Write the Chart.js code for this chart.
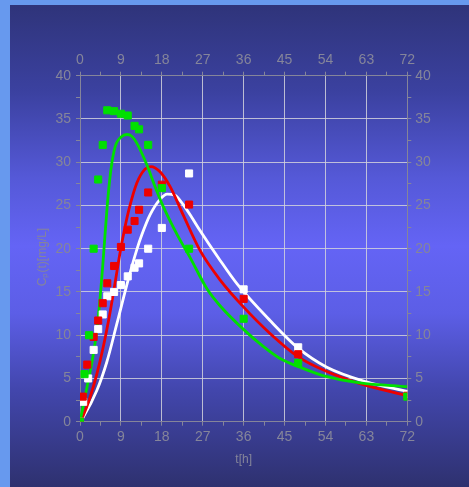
<!DOCTYPE html>
<html>
<head>
<meta charset="utf-8">
<script src="https://cdn.jsdelivr.net/npm/chart.js@4"></script>
<style>
html, body { margin: 0; padding: 0; width: 469px; height: 487px; overflow: hidden; background: #6799ee; }
#panel {
    position: absolute; left: 10px; top: 5px; width: 459px; height: 482px;
    background: linear-gradient(#2f347a 0%, #3b41a0 18%, #5559d8 36%, #6464f5 50%, #5c5ee6 64%, #4246ac 80%, #2e316f 100%);
}
#wrap { position: absolute; left: 0; top: 0; width: 469px; height: 487px; }
</style>
</head>
<body>
<div id="panel"></div>
<div id="wrap"><canvas id="pkChart" width="469" height="487"></canvas></div>
<script>
// measured samples (hours / concentration)
var greenHours = [0, 1, 2, 3, 4, 5, 6, 7.5, 9, 10.5, 12, 13, 15, 18, 24, 36, 48, 72];
var greenObs = [0, 5.5, 10, 20, 28, 32, 36, 35.9, 35.6, 35.4, 34.2, 33.8, 32, 27, 20, 11.9, 6.8, 2.9];

var redHours = [0, 0.6, 1.6, 3, 4, 5, 6, 7.5, 9, 10.5, 12, 13, 15, 18, 24, 36, 48, 72];
var redObs = [0, 2.9, 6.6, 9.8, 11.7, 13.7, 16, 18, 20.2, 22.2, 23.2, 24.5, 26.5, 27.4, 25.1, 14.2, 7.8, 3.0];

var whiteHours = [0, 0.7, 1.8, 3, 4, 5, 6, 7.5, 9, 10.5, 12, 13, 15, 18, 24, 36, 48, 72];
var whiteObs = [0, 2.3, 5, 8.3, 10.7, 12.4, 14.5, 15, 15.8, 16.8, 17.8, 18.3, 20, 22.4, 28.7, 15.3, 8.6, 3.2];

// fitted curves
var greenFitHours = [0, 1.5, 3, 3.5, 4, 4.5, 5, 5.5, 6, 6.5, 7, 7.5, 8, 9, 10.3, 11.4, 12.5, 14.7, 16.5, 18.3, 21.4, 24.2, 28, 30.8, 35.9, 40.3, 44, 48.4, 54.3, 61.6, 72];
var greenFit = [0, 3.9, 8, 9.8, 12, 14.8, 18, 21.6, 25, 27.8, 29.9, 31.3, 32.2, 32.9, 33.2, 33, 32.2, 29.7, 27.2, 24.9, 21.6, 19, 15.3, 13.4, 10.7, 8.7, 7.3, 6.3, 5.2, 4.5, 4.05];

var redFitHours = [0, 0.7, 2.2, 3.7, 5.1, 6.6, 7.7, 8.8, 9.9, 10.8, 12.5, 14.3, 15.6, 17.6, 19.8, 22.7, 26.4, 30.8, 35.9, 41.8, 48, 54.3, 61.6, 72];
var redFit = [0, 0.7, 2.8, 5.5, 8.6, 12.6, 16.0, 19.5, 22.5, 24.6, 27.6, 29.2, 29.5, 28.9, 27.2, 23.9, 19.8, 16.4, 13.3, 10.2, 7.5, 5.8, 4.4, 3.0];

var whiteFitHours = [0, 0.7, 3.7, 5.9, 8.1, 10.8, 12.5, 13.6, 15.4, 17.6, 19.2, 20.8, 22.7, 24.5, 26.4, 30.5, 34.6, 41.8, 48, 54.3, 63, 72];
var whiteFit = [0, 0.5, 3.6, 6.9, 11.3, 16.8, 19.9, 21.6, 23.9, 25.7, 26.3, 26.2, 25.1, 23.7, 22.1, 18.9, 15.9, 11.7, 8.5, 6.3, 4.6, 3.5];

const AXIS_GRAY = '#85859a';
const GRID_COLOR = 'rgba(210,210,220,0.85)';
const GREEN = '#00e000';
const RED = '#ee0000';
const WHITE = '#ffffff';

Chart.defaults.font.family = '"Liberation Sans", Arial, sans-serif';

function toPoints(xs, ys) {
    return xs.map((x, i) => ({ x: x, y: ys[i] }));
}

function obsSet(label, xs, ys, color, order) {
    return {
        label: label, data: toPoints(xs, ys), showLine: false, order: order,
        pointStyle: 'rect', pointRadius: 5, pointHoverRadius: 5,
        pointBackgroundColor: color, pointBorderColor: color, pointBorderWidth: 1
    };
}

function fitSet(label, xs, ys, color, order) {
    return {
        label: label, data: toPoints(xs, ys), order: order,
        borderColor: color, borderWidth: 2.8, pointRadius: 0,
        cubicInterpolationMode: 'monotone', fill: false
    };
}

// major every 9 h / 5 units, minor ticks in between
function axis(pos, max, step, major, mainAxis, size) {
    return {
        type: 'linear', position: pos, axis: (pos === 'top' || pos === 'bottom') ? 'x' : 'y',
        min: 0, max: max,
        border: { color: AXIS_GRAY, width: 1 },
        grid: {
            drawOnChartArea: mainAxis,
            color: ctx => (ctx.tick && ctx.tick.value % major === 0 && ctx.tick.value > 0 && ctx.tick.value < max) ? GRID_COLOR : 'rgba(0,0,0,0)',
            tickColor: AXIS_GRAY,
            tickLength: 4
        },
        ticks: {
            stepSize: step, autoSkip: false, maxRotation: 0,
            color: AXIS_GRAY, font: { size: 14 },
            padding: pos === 'left' ? 5 : (pos === 'right' ? 4 : 3.5),
            callback: v => (v % major === 0 ? v : '')
        },
        afterFit: s => {
            if (pos === 'left' || pos === 'right') s.width = size; else s.height = size;
        }
    };
}

const yTitle = {
    id: 'yTitle',
    afterDraw(chart) {
        const ctx = chart.ctx;
        ctx.save();
        ctx.translate(43, 257);
        ctx.rotate(-Math.PI / 2);
        ctx.fillStyle = AXIS_GRAY;
        ctx.font = '12px "Liberation Sans", Arial, sans-serif';
        ctx.textAlign = 'center';
        ctx.textBaseline = 'middle';
        ctx.fillText('Cₚ(t)[mg/L]', 0, 0);
        ctx.restore();
    }
};

const xScale = axis('bottom', 72, 4.5, 9, true, 65.3);
xScale.title = { display: true, text: 't[h]', color: AXIS_GRAY, font: { size: 12 }, padding: { top: 0, bottom: 20 } };

new Chart(document.getElementById('pkChart'), {
    type: 'line',
    data: {
        datasets: [
            obsSet('green data', greenHours, greenObs, GREEN, 0),
            obsSet('red data', redHours, redObs, RED, 1),
            obsSet('white data', whiteHours, whiteObs, WHITE, 2),
            fitSet('green fit', greenFitHours, greenFit, GREEN, 3),
            fitSet('red fit', redFitHours, redFit, RED, 4),
            fitSet('white fit', whiteFitHours, whiteFit, WHITE, 5)
        ]
    },
    options: {
        responsive: false,
        animation: false,
        layout: { padding: { left: 10, right: 0, top: 0, bottom: 0 } },
        plugins: { legend: { display: false }, tooltip: { enabled: false } },
        scales: {
            x: xScale,
            x2: axis('top', 72, 4.5, 9, false, 75.7),
            y: axis('left', 40, 2.5, 5, true, 70),
            y2: axis('right', 40, 2.5, 5, false, 61.7)
        }
    },
    plugins: [yTitle]
});
</script>
</body>
</html>
